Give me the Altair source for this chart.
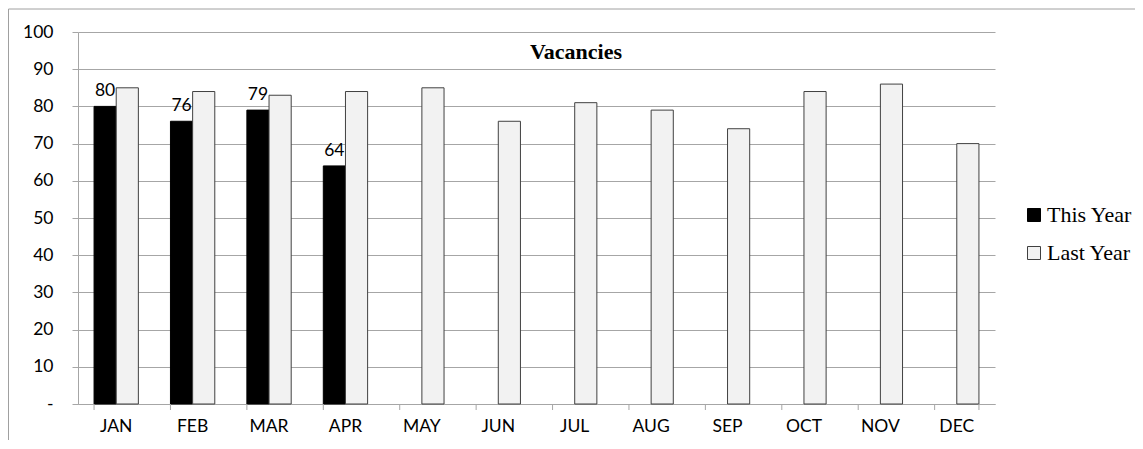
import altair as alt
import pandas as pd

months = ["JAN", "FEB", "MAR", "APR", "MAY", "JUN", "JUL", "AUG", "SEP", "OCT", "NOV", "DEC"]
series = ["This Year", "Last Year"]
this_year = [80, 76, 79, 64]
last_year = [85, 84, 83, 84, 85, 76, 81, 79, 74, 84, 86, 70]
y_ticks = [0, 10, 20, 30, 40, 50, 60, 70, 80, 90, 100]

rows = []
for i, m in enumerate(months):
    if i < len(this_year):
        rows.append({"month": m, "series": "This Year", "value": this_year[i]})
    rows.append({"month": m, "series": "Last Year", "value": last_year[i]})
df = pd.DataFrame(rows)

W, H = 917, 372
GRID = "#a6a6a6"
LABEL_FONT = "Lato"
SERIF = "Liberation Serif"
FS = 17.5

xscale = alt.Scale(domain=months, paddingInner=0.42, paddingOuter=0.21)
yscale = alt.Scale(domain=[0, 100])
offscale = alt.Scale(domain=series, paddingInner=0, paddingOuter=0)
fill_scale = alt.Scale(domain=series, range=["#000000", "#f2f2f2"])
stroke_scale = alt.Scale(domain=series, range=["#000000", "#404040"])

legend = alt.Legend(
    title=None, orient="none", legendX=945, legendY=172,
    symbolType="square", symbolSize=169, symbolStrokeWidth=1,
    labelFont=SERIF, labelFontSize=22, labelColor="#000000",
    rowPadding=16, labelOffset=2, padding=0, labelLimit=200,
)

x_axis = alt.Axis(
    title=None, labelAngle=0, ticks=False, grid=False,
    domainColor=GRID, labelFont=LABEL_FONT, labelFontSize=FS,
    labelColor="#000000", labelPadding=13, labelOverlap=False,
)
y_axis = alt.Axis(
    title=None, values=y_ticks, tickCount=11,
    labelExpr="datum.value == 0 ? '-' : datum.label",
    tickSize=6, tickColor=GRID, gridColor=GRID, domainColor=GRID,
    labelPadding=19, labelFont=LABEL_FONT, labelFontSize=FS,
    labelColor="#000000", labelOverlap=False,
)

x_enc = alt.X("month:N", scale=xscale, sort=months, axis=x_axis)
y_enc = alt.Y("value:Q", scale=yscale, axis=y_axis)
off_enc = alt.XOffset("series:N", scale=offscale, sort=series)

base = alt.Chart(df)

bars = base.mark_bar(strokeWidth=1).encode(
    x=x_enc,
    xOffset=off_enc,
    y=y_enc,
    fill=alt.Fill("series:N", scale=fill_scale, sort=series, legend=legend),
    stroke=alt.Stroke("series:N", scale=stroke_scale, sort=series, legend=legend),
)

labels = base.transform_filter(alt.datum.series == "This Year").mark_text(
    baseline="alphabetic", dy=-10, font=LABEL_FONT, fontSize=FS, color="#000000"
).encode(
    x=x_enc,
    xOffset=off_enc,
    y=y_enc,
    text=alt.Text("value:Q"),
)

tick_df = pd.DataFrame({"month": months})
x_ticks = alt.Chart(tick_df).mark_rule(color=GRID, strokeWidth=1).encode(
    x=alt.X("month:N", scale=xscale, sort=months, bandPosition=0, axis=x_axis),
    y=alt.value(H),
    y2=alt.value(H + 6),
)
end_tick = alt.Chart(pd.DataFrame({"month": [months[-1]]})).mark_rule(color=GRID, strokeWidth=1).encode(
    x=alt.X("month:N", scale=xscale, sort=months, bandPosition=1, axis=x_axis),
    y=alt.value(H),
    y2=alt.value(H + 6),
)

one = pd.DataFrame({"t": ["Vacancies"]})
title = alt.Chart(one).mark_text(
    font=SERIF, fontSize=22, fontWeight="bold", color="#000000", baseline="alphabetic"
).encode(x=alt.value(498), y=alt.value(27), text="t:N")

frame_left = alt.Chart(one).mark_rule(color="#a0a0a0", strokeWidth=1).encode(
    x=alt.value(-69.5), y=alt.value(-23), y2=alt.value(410)
)
frame_top = alt.Chart(one).mark_rule(color="#a0a0a0", strokeWidth=1).encode(
    x=alt.value(-69.5), x2=alt.value(1100), y=alt.value(-23)
)

chart = alt.layer(bars, labels, x_ticks, end_tick, title, frame_left, frame_top).properties(
    width=W, height=H,
    autosize="none",
    padding={"left": 70, "top": 24, "right": 140, "bottom": 36},
).configure_view(stroke=None)

chart.save("out.html", embed_options={"renderer": "svg", "actions": False})
